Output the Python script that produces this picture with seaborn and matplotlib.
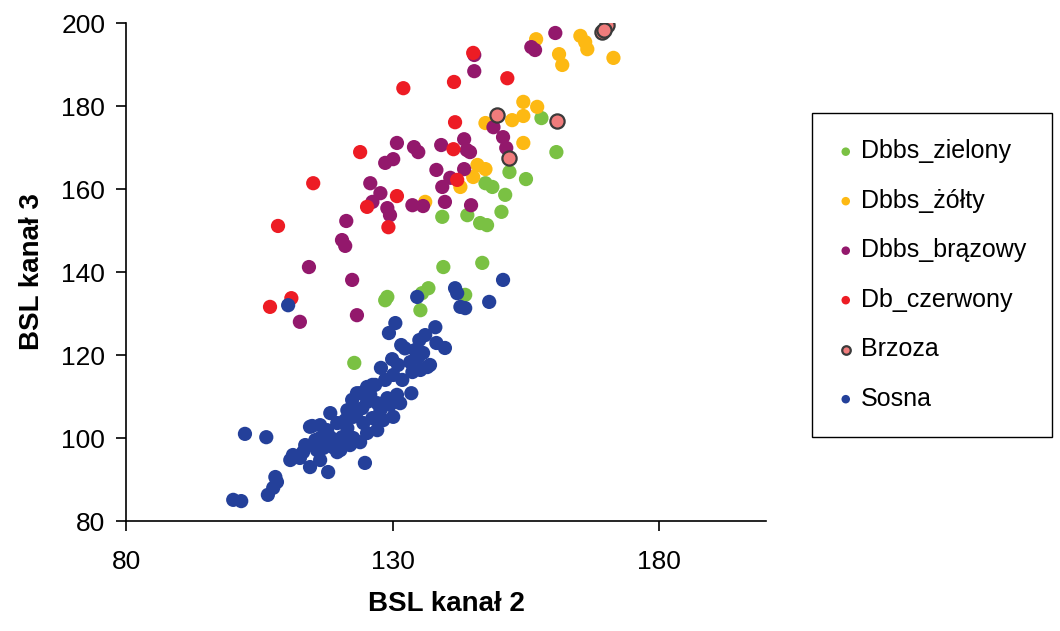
import pandas as pd
import matplotlib.pyplot as plt
import seaborn as sns

# Series values (BSL kanal 2 vs BSL kanal 3)
zielony_x = [122.8, 129.0, 128.6, 136.7, 135.5, 135.2, 139.5, 146.8, 143.6, 157.9, 160.7,
             151.9, 155.0, 147.4, 148.7, 151.1, 150.4, 139.3, 144.0, 146.4, 147.7]
zielony_y = [118.1, 134.0, 133.2, 136.1, 134.9, 130.8, 141.2, 142.2, 134.5, 177.1, 168.9,
             164.1, 162.4, 161.4, 160.5, 158.6, 154.5, 153.3, 153.7, 151.8, 151.3]

zolty_x = [156.9, 161.2, 161.8, 165.2, 166.1, 166.5, 171.4, 154.5, 157.1, 154.5, 152.4,
           147.4, 154.5, 145.9, 147.4, 145.1, 142.7, 136.1]
zolty_y = [196.1, 192.5, 189.9, 196.9, 195.4, 193.7, 191.6, 181.0, 179.8, 177.6, 176.6,
           175.9, 171.1, 165.8, 164.8, 162.9, 160.5, 156.9]

brazowy_x = [160.5, 156.0, 156.7, 145.3, 145.3, 148.9, 150.7, 151.3, 134.0, 134.8,
             139.1, 143.4, 143.9, 144.5, 138.2, 139.3, 143.4, 140.8, 139.8, 133.7,
             135.7, 144.7, 130.8, 130.1, 128.6, 125.8, 127.7, 126.2, 129.0, 129.5,
             121.3, 120.5, 121.1, 114.3, 122.4, 123.3, 112.6]
brazowy_y = [197.6, 194.2, 193.5, 192.3, 188.4, 174.9, 172.5, 169.9, 170.1, 168.9,
             170.6, 172.0, 169.4, 168.9, 164.6, 160.5, 164.8, 162.7, 156.9, 156.1,
             155.9, 156.1, 171.1, 167.2, 166.3, 161.4, 159.0, 156.9, 155.4, 153.7,
             152.3, 147.7, 146.3, 141.2, 138.1, 129.6, 128.0]

czerwony_x = [145.1, 141.5, 151.5, 132.0, 141.7, 141.4, 142.1, 123.9, 115.1, 130.8,
              125.2, 129.2, 108.5, 111.0, 107.0]
czerwony_y = [192.8, 185.8, 186.7, 184.3, 176.1, 169.6, 162.2, 168.9, 161.4, 158.3,
              155.7, 150.8, 151.1, 133.7, 131.6]

brzoza_x = [170.2, 169.3, 169.7, 149.6, 160.9, 151.9]
brzoza_y = [199.5, 197.8, 198.3, 177.8, 176.4, 167.5]

sosna_x = [100.1, 101.6, 102.3, 106.3, 106.6, 108.0, 108.3, 107.6, 110.8, 111.3,
           110.4, 113.6, 113.2, 114.5, 114.5, 115.8, 117.9, 118.3, 116.4, 117.7,
           118.8, 120.2, 120.5, 121.5, 122.6, 123.3, 125.2, 124.5, 125.2, 124.8,
           123.9, 127.1, 129.0, 130.8, 126.7, 130.1, 128.2, 133.5, 131.8, 130.1,
           127.8, 129.9, 133.3, 135.2, 137.0, 131.6, 129.3, 130.5, 135.0, 138.0,
           138.2, 139.8, 135.7, 134.6, 141.7, 142.1, 142.7, 143.6, 150.7, 148.1,
           119.6, 117.0, 116.4, 119.6, 121.5, 118.3, 122.6, 127.1, 123.3, 125.2,
           114.9, 126.2, 123.9, 127.7, 131.4, 134.8, 136.5, 132.3, 133.7, 131.0,
           128.6, 125.8, 122.4, 124.3, 126.2, 129.5, 121.1, 119.2, 122.0, 115.5,
           112.6, 116.4, 136.1, 134.2]
sosna_y = [85.1, 84.8, 101.0, 100.2, 86.3, 90.6, 89.4, 88.0, 94.7, 95.9,
           132.0, 98.3, 96.6, 102.7, 93.0, 97.1, 91.8, 106.0, 100.0, 101.9,
           97.8, 97.1, 100.2, 106.7, 105.1, 110.8, 112.3, 103.6, 101.2, 94.0,
           99.0, 108.4, 109.6, 110.4, 112.8, 105.1, 104.3, 110.8, 114.0, 115.2,
           116.9, 119.0, 118.3, 116.4, 117.6, 122.4, 125.3, 127.7, 123.6, 126.7,
           122.9, 121.7, 120.5, 134.0, 136.1, 134.9, 131.6, 131.3, 138.1, 132.8,
           96.6, 97.6, 94.7, 103.6, 102.4, 100.2, 100.0, 101.9, 106.3, 108.7,
           102.9, 112.8, 110.8, 106.7, 108.4, 119.5, 117.1, 121.6, 115.9, 117.6,
           114.0, 110.4, 109.2, 107.2, 104.8, 108.0, 104.3, 99.5, 98.3, 99.5,
           95.2, 103.1, 124.8, 121.2]

series_names = ['Dbbs_zielony', 'Dbbs_żółty', 'Dbbs_brązowy', 'Db_czerwony', 'Brzoza', 'Sosna']
series_x = [zielony_x, zolty_x, brazowy_x, czerwony_x, brzoza_x, sosna_x]
series_y = [zielony_y, zolty_y, brazowy_y, czerwony_y, brzoza_y, sosna_y]
series_colors = ['#7AC143', '#FDB913', '#93186C', '#ED1C24', '#F07C7C', '#24409A']

sns.set_theme(style="white")
plt.rcParams['font.family'] = ['Liberation Sans', 'DejaVu Sans']

fig = plt.figure(figsize=(10.6, 6.31), dpi=100)
ax = fig.add_axes([0.1189, 0.1743, 0.6037, 0.7892])

for name, xs, ys, color in zip(series_names, series_x, series_y, series_colors):
    df = pd.DataFrame({'x': xs, 'y': ys})
    if name == 'Brzoza':
        edge, lw = '#3a3a3a', 1.6
    else:
        edge, lw = 'none', 0
    sns.scatterplot(data=df, x='x', y='y', color=color, s=105,
                    edgecolor=edge, linewidth=lw, label=name, ax=ax, zorder=3)

ax.set_xlim(80, 200)
ax.set_ylim(80, 200)
ax.set_xticks([80, 130, 180])
ax.set_yticks([80, 100, 120, 140, 160, 180, 200])
sns.despine(ax=ax)
for side in ['left', 'bottom']:
    ax.spines[side].set_color('black')
    ax.spines[side].set_linewidth(1.2)
ax.tick_params(axis='both', direction='out', length=7, width=1.2, color='black',
               labelsize=19, labelcolor='black', left=True, bottom=True)
ax.tick_params(axis='x', pad=14)
ax.tick_params(axis='y', pad=8)

ax.set_xlabel('BSL kanał 2', fontsize=20, fontweight='bold', color='black', labelpad=12)
ax.set_ylabel('BSL kanał 3', fontsize=20, fontweight='bold', color='black', labelpad=12)

leg = ax.legend(loc='upper left', bbox_to_anchor=(812 / 1060, 518 / 631),
                bbox_transform=fig.transFigure, frameon=True, fancybox=False,
                framealpha=1, edgecolor='black', fontsize=18, markerscale=0.6,
                handlelength=0.6, handletextpad=0.3, labelspacing=1.02,
                borderpad=1.05, borderaxespad=0)
leg.get_frame().set_linewidth(1.0)
for text in leg.get_texts():
    text.set_color('black')

fig.savefig('out.png', dpi=100)
